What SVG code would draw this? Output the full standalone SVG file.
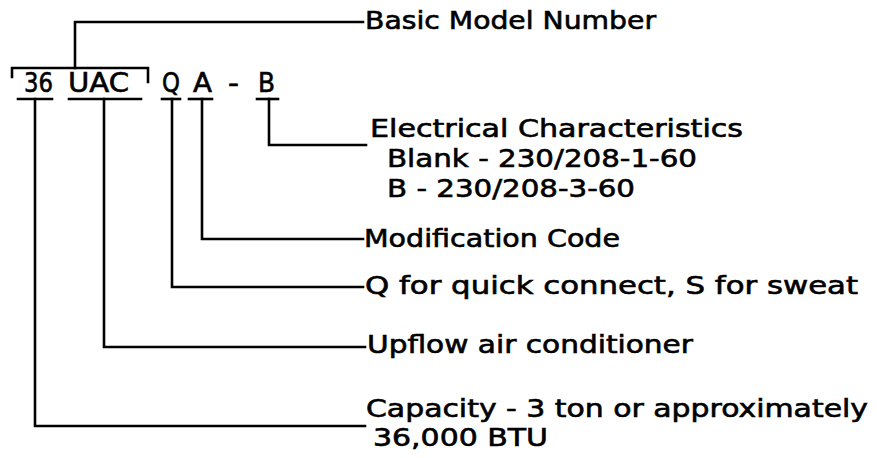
<svg xmlns="http://www.w3.org/2000/svg" width="877" height="458" viewBox="0 0 877 458">
<style>
.t{font-family:"DejaVu Sans","Liberation Sans",sans-serif;font-size:24px;fill:#000;stroke:#000;stroke-width:0.6px}
.c{font-size:26px}
.l{fill:none;stroke:#000;stroke-width:2.6;stroke-linecap:square}
</style>
<rect width="877" height="458" fill="#fff"/>
<g id="code">
<text class="t c" x="24" y="92" textLength="29" lengthAdjust="spacingAndGlyphs">36</text>
<text class="t c" x="68" y="92" textLength="61" lengthAdjust="spacingAndGlyphs">UAC</text>
<text class="t c" x="162" y="92" textLength="18" lengthAdjust="spacingAndGlyphs">Q</text>
<text class="t c" x="193" y="92" textLength="19" lengthAdjust="spacingAndGlyphs">A</text>
<text class="t c" x="228" y="92" textLength="11" lengthAdjust="spacingAndGlyphs">-</text>
<text class="t c" x="258" y="92" textLength="17" lengthAdjust="spacingAndGlyphs">B</text>
</g>
<g id="basic-model">
<text class="t" x="365" y="29" textLength="291" lengthAdjust="spacingAndGlyphs">Basic Model Number</text>
</g>
<g id="electrical">
<text class="t" x="370" y="137" textLength="373" lengthAdjust="spacingAndGlyphs">Electrical Characteristics</text>
<text class="t" x="387" y="167" textLength="310" lengthAdjust="spacingAndGlyphs">Blank - 230/208-1-60</text>
<text class="t" x="387" y="197" textLength="248" lengthAdjust="spacingAndGlyphs">B - 230/208-3-60</text>
</g>
<g id="modification">
<text class="t" x="364" y="247" textLength="256" lengthAdjust="spacingAndGlyphs">Modification Code</text>
</g>
<g id="connect">
<text class="t" x="365" y="294" textLength="493" lengthAdjust="spacingAndGlyphs">Q for quick connect, S for sweat</text>
</g>
<g id="upflow">
<text class="t" x="367" y="353" textLength="326" lengthAdjust="spacingAndGlyphs">Upflow air conditioner</text>
</g>
<g id="capacity">
<text class="t" x="366" y="417" textLength="502" lengthAdjust="spacingAndGlyphs">Capacity - 3 ton or approximately</text>
<text class="t" x="373" y="446" textLength="175" lengthAdjust="spacingAndGlyphs">36,000 BTU</text>
</g>
<g id="connectors">
<polyline class="l" points="363,22 75,22 75,68"/>
<polyline class="l" points="12,77 12,68 148,68 148,82"/>
<line class="l" x1="18" y1="99" x2="52" y2="99"/>
<line class="l" x1="69" y1="99" x2="141" y2="99"/>
<line class="l" x1="162" y1="99" x2="180" y2="99"/>
<line class="l" x1="189" y1="99" x2="212" y2="99"/>
<line class="l" x1="257" y1="99" x2="278" y2="99"/>
<polyline class="l" points="35,99 35,426 365,426"/>
<polyline class="l" points="104,99 104,347 365,347"/>
<polyline class="l" points="172,99 172,287 363,287"/>
<polyline class="l" points="202,99 202,239 363,239"/>
<polyline class="l" points="269,99 269,145 366,145"/>
</g>
</svg>
